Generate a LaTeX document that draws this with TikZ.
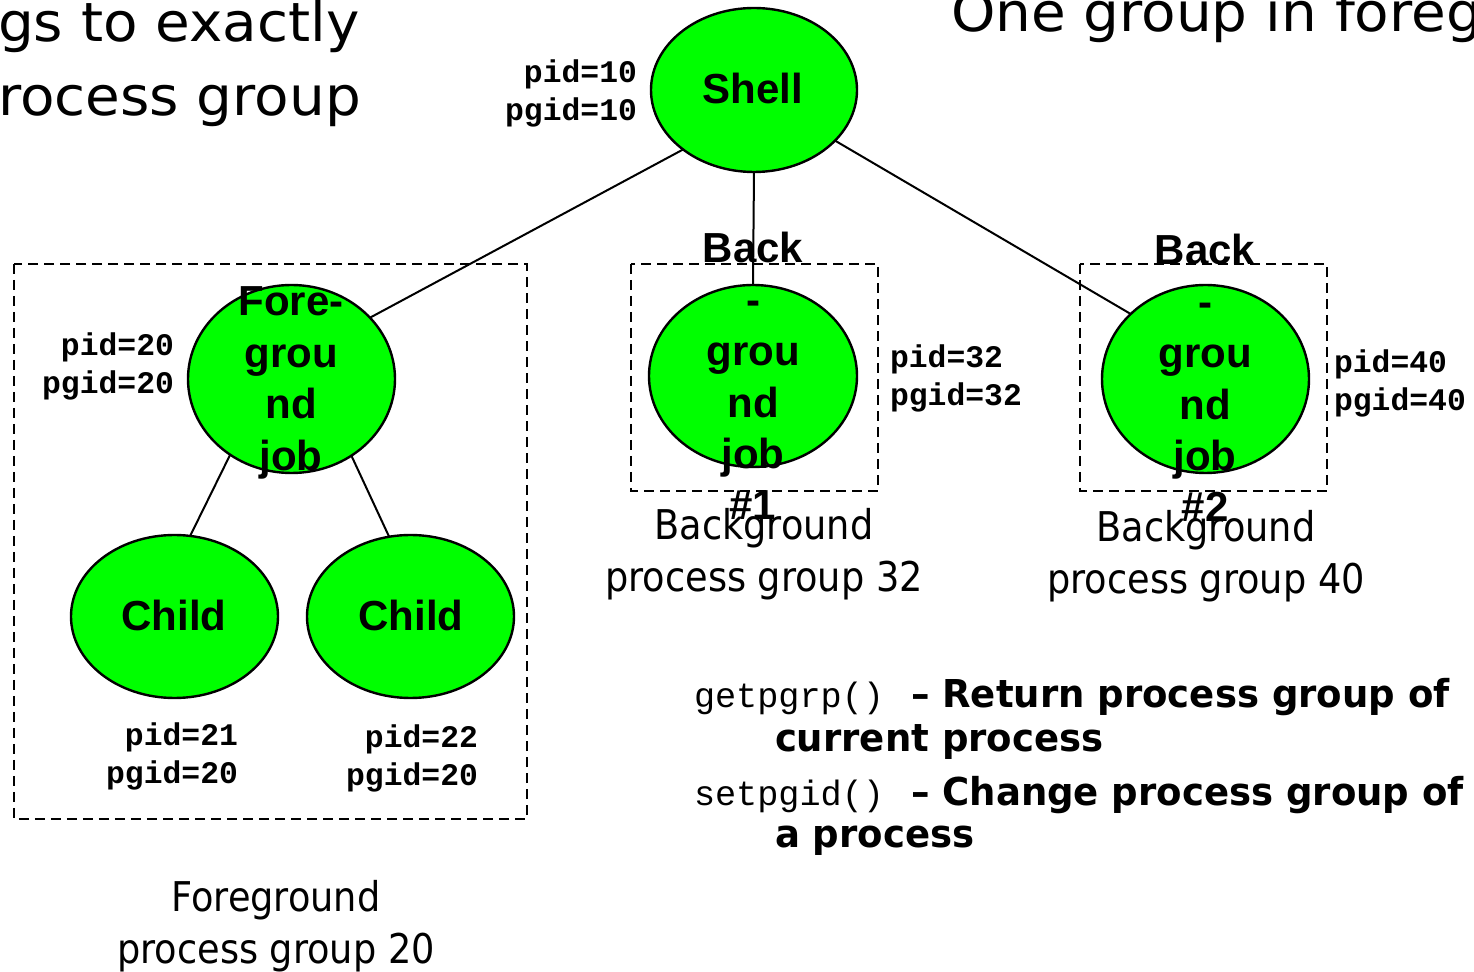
\documentclass[tikz,border=0pt]{standalone}
\usepackage{fontspec}
\setmainfont{DejaVu Sans}
\newfontfamily\tah[FakeStretch=0.895]{DejaVu Sans}
\newfontfamily\ttl[FakeStretch=1.045]{DejaVu Sans}
\newfontfamily\arl{Liberation Sans}
\newfontfamily\cou{Liberation Mono}
\newfontfamily\vbd[FakeStretch=0.965]{DejaVu Sans}
\usetikzlibrary{shapes.geometric,backgrounds}
\definecolor{procgreen}{RGB}{0,255,0}
\begin{document}
\begin{tikzpicture}[x=0.5pt,y=-0.5pt,
  proc/.style={ellipse, draw, line width=1.2pt, fill=procgreen, inner sep=0pt, outer sep=0pt},
  jobtxt/.style={inner sep=0pt, outer sep=0pt, font=\arl\bfseries\fontsize{21}{25.7}\selectfont},
  pidlbl/.style={inner sep=0pt, outer sep=0pt, font=\cou\bfseries\fontsize{15.7}{19}\selectfont},
  grplbl/.style={inner sep=0pt, outer sep=0pt, font=\tah\fontsize{20.5}{25.7}\selectfont},
  ttltxt/.style={inner sep=0pt, outer sep=0pt, font=\ttl\fontsize{27}{36}\selectfont},
  codetxt/.style={inner sep=0pt, outer sep=0pt, font=\cou\fontsize{17.6}{20}\selectfont},
  desctxt/.style={inner sep=0pt, outer sep=0pt, font=\vbd\bfseries\fontsize{19.2}{22}\selectfont},
  conn/.style={line width=1pt},
  grpbox/.style={line width=1pt, dash pattern=on 4.8pt off 3.2pt}
]
\useasboundingbox (0,0) rectangle (1474,972);
\clip (0,0) rectangle (1474,972);

% process ellipses
\node[proc, minimum width=103pt, minimum height=82pt] (shell) at (754,90) {};
\node[proc, minimum width=103.5pt, minimum height=94pt] (fore) at (291.5,379) {};
\node[proc, minimum width=104pt, minimum height=91pt] (back1) at (753,376) {};
\node[proc, minimum width=103.5pt, minimum height=94pt] (back2) at (1205.5,379) {};
\node[proc, minimum width=103.5pt, minimum height=81.5pt] (child1) at (174.5,616.5) {};
\node[proc, minimum width=103.5pt, minimum height=81.5pt] (child2) at (410.5,616.5) {};

\begin{pgfonlayer}{background}
  \draw[grpbox] (14,264) rectangle (527,819);
  \draw[grpbox] (631,264) rectangle (878,491);
  \draw[grpbox] (1080,264) rectangle (1327,491);
  \draw[conn] (shell.220) -- (fore.38);
  \draw[conn] (shell.south) -- (back1.north);
  \draw[conn] (shell.328) -- (back2.139);
  \draw[conn] (fore.231) -- (child1.79);
  \draw[conn] (fore.308) -- (child2.105);
\end{pgfonlayer}

% texts in ellipses
\node[jobtxt, anchor=base] (tshell) at (753,104) {Shell};
\node[jobtxt, anchor=base] (tfore) at (291,316) {\begin{tabular}[t]{@{}c@{}}Fore-\\grou\\nd\\job\end{tabular}};
\node[jobtxt, anchor=base] (tback1) at (753,263) {\begin{tabular}[t]{@{}c@{}}Back\\-\\grou\\nd\\job\\\#1\end{tabular}};
\node[jobtxt, anchor=base] (tback2) at (1205,265) {\begin{tabular}[t]{@{}c@{}}Back\\-\\grou\\nd\\job\\\#2\end{tabular}};
\node[jobtxt, anchor=base] (tchild1) at (174,631) {Child};
\node[jobtxt, anchor=base] (tchild2) at (411,631) {Child};

% pid labels
\node[pidlbl, anchor=base east] (p10) at (637,83) {\begin{tabular}[t]{@{}r@{}}pid=10\\pgid=10\end{tabular}};
\node[pidlbl, anchor=base east] (p20) at (174,356) {\begin{tabular}[t]{@{}r@{}}pid=20\\pgid=20\end{tabular}};
\node[pidlbl, anchor=base east] (p21) at (238,746) {\begin{tabular}[t]{@{}r@{}}pid=21\\pgid=20\end{tabular}};
\node[pidlbl, anchor=base east] (p22) at (478,748) {\begin{tabular}[t]{@{}r@{}}pid=22\\pgid=20\end{tabular}};
\node[pidlbl, anchor=base west] (p32) at (890,368) {\begin{tabular}[t]{@{}l@{}}pid=32\\pgid=32\end{tabular}};
\node[pidlbl, anchor=base west] (p40) at (1334,373) {\begin{tabular}[t]{@{}l@{}}pid=40\\pgid=40\end{tabular}};

% group labels
\node[grplbl, anchor=base] (g32) at (764,540) {\begin{tabular}[t]{@{}c@{}}Background\\process group 32\end{tabular}};
\node[grplbl, anchor=base] (g40) at (1206,542) {\begin{tabular}[t]{@{}c@{}}Background\\process group 40\end{tabular}};
\node[grplbl, anchor=base] (g20) at (276,912) {\begin{tabular}[t]{@{}c@{}}Foreground\\process group 20\end{tabular}};

% titles (cut off by the frame)
\node[ttltxt, anchor=base west] (t1) at (-2,42) {gs to exactly};
\node[ttltxt, anchor=base west] (t2) at (-2,116) {rocess group};
\node[ttltxt, anchor=base west] (t3) at (951,32) {One group in foreg};

% API description
\node[codetxt, anchor=base west] (c1) at (694,708) {getpgrp()};
\node[desctxt, anchor=base west] (d1) at (911,708) {– Return process group of};
\node[desctxt, anchor=base west] (d1b) at (775,752) {current process};
\node[codetxt, anchor=base west] (c2) at (694,806) {setpgid()};
\node[desctxt, anchor=base west] (d2) at (911,806) {– Change process group of};
\node[desctxt, anchor=base west] (d2b) at (775,848) {a process};
\end{tikzpicture}
\end{document}
